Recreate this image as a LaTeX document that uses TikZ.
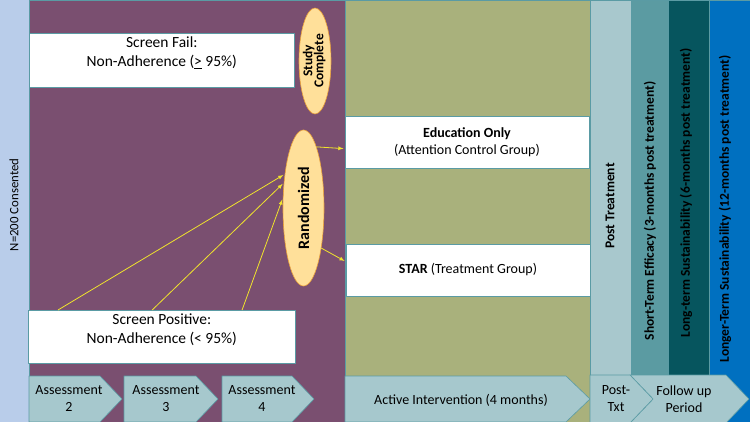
\documentclass[tikz,border=0pt]{standalone}
\usepackage{fontspec}
\setmainfont{Carlito}
\usetikzlibrary{calc, shapes.geometric}

\definecolor{consent}{HTML}{B9CDEA}
\definecolor{plum}{HTML}{7A4F70}
\definecolor{olive}{HTML}{A9B17C}
\definecolor{postcol}{HTML}{A8C8CD}
\definecolor{shortcol}{HTML}{5B9BA2}
\definecolor{longcol}{HTML}{06555E}
\definecolor{longercol}{HTML}{0070C0}
\definecolor{chevfill}{HTML}{A6C8CD}
\definecolor{edge}{HTML}{5A9BA4}
\definecolor{ovalfill}{HTML}{FFE09A}
\definecolor{ovaledge}{HTML}{E9A13B}
\definecolor{arrowc}{HTML}{F0E32C}

\tikzset{
  region/.style={draw=edge, line width=0.5pt},
  whitebox/.style={draw=edge, fill=white, line width=0.6pt, inner sep=0pt, anchor=north west},
  boxtxt/.style={align=center, inner sep=0pt, font=\fontsize{15.5}{18.7}\selectfont},
  grouptxt/.style={align=center, inner sep=0pt, font=\fontsize{14}{17}\selectfont},
  oval/.style={ellipse, draw=ovaledge, fill=ovalfill, line width=0.6pt, inner sep=0pt},
  chev/.style={draw=edge, fill=chevfill, line width=0.6pt},
  chevtxt/.style={align=center, inner sep=0pt, font=\fontsize{14}{17}\selectfont},
  coltxt/.style={rotate=90, inner sep=0pt, font=\fontsize{13.5}{16}\selectfont\bfseries},
  flow/.style={draw=arrowc, line width=0.8pt, -latex, shorten >=1.5pt}
}

\begin{document}
\begin{tikzpicture}[x=1pt, y=-1pt, line join=round]
  \useasboundingbox (0,0) rectangle (750,422);
  % phases
  \fill[consent] (0,0) rectangle (29,422);
  \draw[region, fill=plum] (29,0) rectangle (345,422);
  \draw[region, fill=olive] (345,0) rectangle (590,422);
  \draw[region, fill=longercol] (709,0) rectangle (750,422);
  \draw[region, fill=postcol] (590,0) rectangle (631,375);
  \draw[region, fill=shortcol] (631,0) rectangle (668,375);
  \draw[region, fill=longcol] (668,0) rectangle (709,375);
  \node[coltxt, font=\fontsize{12.8}{15}\selectfont] (consented) at (14,205) {N=200 Consented};
  \node[coltxt] (posttx) at (610,206) {Post Treatment};
  \node[coltxt] (shortterm) at (650,211) {Short-Term Efficacy (3-months post treatment)};
  \node[coltxt] (longterm) at (686,193) {Long-term Sustainability (6-months post treatment)};
  \node[coltxt] (longerterm) at (725,209) {Longer-Term Sustainability (12-months post treatment)};

  % screening
  \node[whitebox, minimum width=265, minimum height=54,
    label={[boxtxt, anchor=north, yshift=-4pt]north:{Screen Fail:\\Non-Adherence (\underline{>} 95\%)}}] (sfail) at (29,33) {};
  \node[whitebox, minimum width=267, minimum height=53,
    label={[boxtxt, anchor=north, yshift=-4pt]north:{Screen Positive:\\Non-Adherence (< 95\%)}}] (spos) at (28,310) {};
  \node[oval, minimum width=32, minimum height=106] (done) at (315,61) {};
  \node[inner sep=0pt, font=\fontsize{13.5}{14}\selectfont\bfseries] (donetxt) at (done.center)
    {\rotatebox{90}{\begin{tabular}{@{}c@{}}Study\\[-3pt]Complete\end{tabular}}};
  \node[oval, minimum width=41, minimum height=156] (rand) at (303.5,208) {};
  \node[inner sep=0pt, font=\fontsize{16}{18}\selectfont\bfseries] (randtxt) at (rand.center)
    {\rotatebox{90}{Randomized}};

  % groups
  \node[whitebox, minimum width=244, minimum height=52] (edu) at (345,116) {};
  \node[grouptxt] (edutxt) at (467,142) {\textbf{Education Only}\\(Attention Control Group)};
  \node[whitebox, minimum width=244, minimum height=52] (star) at (346,244) {};
  \node[grouptxt] (startxt) at (468,270) {\textbf{STAR} (Treatment Group)};

  % connectors
  \draw[flow] ($(spos.north west)!0.112!(spos.north east)$) -- (rand.119);
  \draw[flow] ($(spos.north west)!0.464!(spos.north east)$) -- (rand.128);
  \draw[flow] ($(spos.north west)!0.8!(spos.north east)$) -- (rand.154);
  \draw[flow] (rand.78) -- (edu.183);
  \draw[flow] (rand.-66) -- (star.176);

  % timeline
  \draw[chev] (29,376) -- (100,376) -- (122,399) -- (100,422) -- (29,422) -- cycle;
  \draw[chev] (124,376) -- (196,376) -- (218,399) -- (196,422) -- (124,422) -- cycle;
  \draw[chev] (222,376) -- (292,376) -- (314,399) -- (292,422) -- (222,422) -- cycle;
  \draw[chev] (345,376) -- (566,376) -- (590,399) -- (566,422) -- (345,422) -- cycle;
  \draw[chev] (630,375) -- (726,375) -- (749,399) -- (726,423) -- (630,423) -- (653,399) -- cycle;
  \draw[chev] (590,375) -- (630,375) -- (653,399) -- (630,423) -- (590,423) -- cycle;
  \node[chevtxt] (as2) at (69,399) {Assessment\\2};
  \node[chevtxt] (as3) at (166,399) {Assessment\\3};
  \node[chevtxt] (as4) at (262,399) {Assessment\\4};
  \node[chevtxt] (active) at (461,400) {Active Intervention (4 months)};
  \node[chevtxt] (posttxt) at (616,399) {Post-\\Txt};
  \node[chevtxt] (follow) at (684,399) {Follow up\\Period};
\end{tikzpicture}
\end{document}
